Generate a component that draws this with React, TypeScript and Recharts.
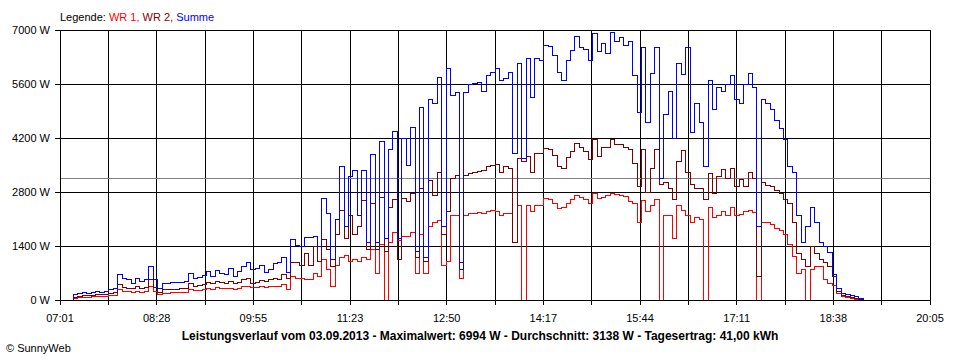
import { CartesianGrid, Line, LineChart, ReferenceLine, XAxis, YAxis } from "recharts";

// Zeitachse: 07:01 bis 20:05, Messwerte alle 4 Minuten
const START_MIN = 421;
const END_MIN = 1205;
const STEP_MIN = 4;

const X_LABELS = ["07:01", "08:28", "09:55", "11:23", "12:50", "14:17", "15:44", "17:11", "18:38", "20:05"];
const Y_TICKS = [0, 1400, 2800, 4200, 5600, 7000];
const DURCHSCHNITT = 3138;

const WR1 = [
    0, 0, 0, 40, 60, 70, 70, 80, 90, 80,
    100, 110, 120, 260, 220, 210, 190, 220, 200, 230,
    340, 220, 130, 180, 180, 190, 190, 190, 200, 280,
    240, 240, 260, 300, 280, 320, 300, 290, 300, 270,
    310, 350, 340, 320, 330, 340, 320, 340, 360, 350,
    390, 260, 600, 560, 560, 540, 520, 700, 600, 1040,
    800, 350, 900, 1100, 1150, 1000, 1050, 1000, 1100, 1050,
    1300, 700, 1450, 0, 1500, 1740, 1550, 1650, 1650, 1740,
    700, 1700, 700, 1900, 2000, 2050, 900, 1000, 2180, 2200,
    570, 2200, 2250, 2250, 2270, 2250, 2300, 2330, 2300, 2200,
    2250, 2250, 1500, 2460, 0, 2460, 2300, 2460, 2460, 2640,
    2600, 2500, 2370, 2400, 2500, 2600, 2720, 2650, 2600, 2500,
    2770, 2620, 2650, 2700, 2770, 2730, 2700, 2680, 2550, 2500,
    2000, 2590, 2300, 2450, 2600, 0, 2200, 2200, 1600, 2450,
    2330, 2200, 2000, 2150, 2100, 0, 2400, 2150, 2200, 2300,
    2200, 2400, 2200, 2220, 2300, 2330, 2280, 0, 2020, 2000,
    1950, 1850, 1800, 1700, 1450, 1120, 700, 780, 0, 780,
    870, 870, 520, 440, 380, 180, 80, 60, 40, 20,
    0, 0,
];

const WR2 = [
    0, 0, 0, 60, 90, 110, 120, 120, 130, 140,
    150, 170, 190, 400, 330, 310, 290, 340, 300, 330,
    530, 320, 200, 270, 280, 280, 280, 290, 290, 430,
    360, 370, 400, 460, 430, 480, 450, 430, 480, 420,
    460, 520, 560, 440, 460, 500, 480, 520, 560, 540,
    650, 560, 960, 980, 900, 1200, 900, 1380, 1000, 1560,
    1300, 870, 1700, 2330, 1600, 2200, 1700, 1900, 2590, 1300,
    2500, 1300, 2650, 1250, 2400, 2600, 1040, 2620, 2550, 2750,
    1100, 2900, 1000, 3100, 2700, 3300, 1700, 2300, 3150, 3240,
    960, 3240, 3290, 3300, 3320, 3350, 3450, 3500, 3520, 3300,
    3450, 3400, 1480, 3660, 3600, 3710, 3300, 3810, 3800, 3940,
    3900, 3750, 3450, 3400, 3700, 3850, 4070, 3950, 3850, 3650,
    4150, 3720, 3950, 3950, 4150, 4030, 4030, 3950, 3900, 3550,
    2930, 3890, 2800, 3400, 3890, 3000, 3040, 2900, 2600, 3600,
    3880, 3300, 3000, 2900, 2900, 2600, 3280, 2770, 3200, 3390,
    3150, 3400, 2950, 3120, 2950, 3300, 3150, 600, 3050, 2980,
    2950, 2850, 2750, 2600, 2500, 2000, 1200, 1040, 870, 1380,
    1200, 1040, 960, 870, 600, 230, 120, 90, 70, 40,
    10, 0,
];

const SUMME = [
    0, 0, 0, 130, 180, 190, 170, 200, 220, 200,
    230, 260, 300, 660, 560, 520, 440, 560, 480, 540,
    860, 520, 300, 440, 440, 450, 450, 460, 470, 700,
    560, 580, 640, 730, 620, 760, 700, 650, 820, 620,
    730, 880, 960, 780, 820, 900, 720, 800, 940, 960,
    1100, 720, 1560, 1420, 1380, 1630, 1630, 1640, 1400, 2640,
    2250, 1040, 2100, 3450, 1900, 3190, 3370, 2200, 3370, 1500,
    3760, 1480, 4100, 1600, 3890, 4360, 1600, 4200, 3500, 4460,
    1250, 5000, 1100, 5190, 5100, 5780, 1900, 6000, 5300, 5390,
    780, 5390, 5600, 5620, 5650, 5400, 5830, 5900, 6010, 5700,
    5750, 5900, 3810, 6140, 3680, 6270, 5240, 6250, 6200, 6610,
    6580, 6350, 5900, 5700, 6200, 6460, 6820, 6550, 6500, 6200,
    6900, 6450, 6650, 6400, 6930, 6700, 6800, 6600, 6700, 5830,
    4850, 6550, 4600, 5880, 6550, 3150, 4800, 5400, 4200, 6140,
    5850, 6550, 4330, 5100, 4600, 3450, 5700, 4950, 5500, 5400,
    5600, 5830, 5200, 5100, 5600, 5880, 5500, 1900, 5190, 5100,
    4950, 4650, 4450, 4150, 3450, 3300, 2200, 1500, 1900, 2390,
    2000, 1480, 1400, 1220, 650, 300, 180, 140, 120, 80,
    30, 0,
];

const data = SUMME.map((summe, i) => ({
    t: START_MIN + i * STEP_MIN,
    wr1: WR1[i],
    wr2: WR2[i],
    summe,
}));

// 18 Rasterfelder, Beschriftung an jeder zweiten Linie
const xTicks = Array.from({ length: 19 }, (_, k) => START_MIN + (k * (END_MIN - START_MIN)) / 18);

const font = "'Liberation Sans', Arial, sans-serif";
const tickStyle = { fill: "#000", fontSize: 11, fontFamily: font };

export default function App() {
    return (
        <div style={{ position: "absolute", left: 0, top: 0, width: 960, height: 360, background: "#fff", fontFamily: font }}>
            <style>{`.recharts-wrapper line, .recharts-line-curve { shape-rendering: crispEdges; }`}</style>
            <div style={{ position: "absolute", left: 60, top: 10, fontSize: 11, lineHeight: "14px", whiteSpace: "nowrap" }}>
                <span style={{ color: "#000" }}>Legende: </span>
                <span style={{ color: "#ff0000" }}>WR 1, </span>
                <span style={{ color: "#800000" }}>WR 2, </span>
                <span style={{ color: "#0000ff" }}>Summe</span>
            </div>
            <LineChart width={960} height={360} data={data} margin={{ top: 30, right: 30, left: 0, bottom: 30 }}>
                <CartesianGrid stroke="#000" strokeOpacity={1} />
                <XAxis
                    dataKey="t"
                    type="number"
                    domain={[START_MIN, END_MIN]}
                    ticks={xTicks}
                    interval={0}
                    height={30}
                    tickSize={5}
                    tickMargin={9}
                    stroke="#000"
                    tick={tickStyle}
                    tickFormatter={(_v, index) => (index % 2 === 0 ? X_LABELS[index / 2] : "")}
                />
                <YAxis
                    type="number"
                    domain={[0, 7000]}
                    ticks={Y_TICKS}
                    interval={0}
                    width={60}
                    tickSize={5}
                    tickMargin={5}
                    stroke="#000"
                    tick={tickStyle}
                    tickFormatter={(v) => `${v} W`}
                />
                <ReferenceLine y={DURCHSCHNITT} stroke="#808080" />
                <Line type="stepAfter" dataKey="wr1" stroke="#ff0000" strokeWidth={1} dot={false} isAnimationActive={false} />
                <Line type="stepAfter" dataKey="wr2" stroke="#800000" strokeWidth={1} dot={false} isAnimationActive={false} />
                <Line type="stepAfter" dataKey="summe" stroke="#0000ff" strokeWidth={1} dot={false} isAnimationActive={false} />
            </LineChart>
            <div style={{ position: "absolute", left: 0, width: 960, top: 329, textAlign: "center", fontSize: 12, lineHeight: "14px", fontWeight: "bold", whiteSpace: "nowrap" }}>
                Leistungsverlauf vom 03.09.2013 - Maximalwert: 6994 W - Durchschnitt: 3138 W - Tagesertrag: 41,00 kWh
            </div>
            <div style={{ position: "absolute", left: 6, top: 341, fontSize: 11, lineHeight: "14px", whiteSpace: "nowrap" }}>
                © SunnyWeb
            </div>
        </div>
    );
}
